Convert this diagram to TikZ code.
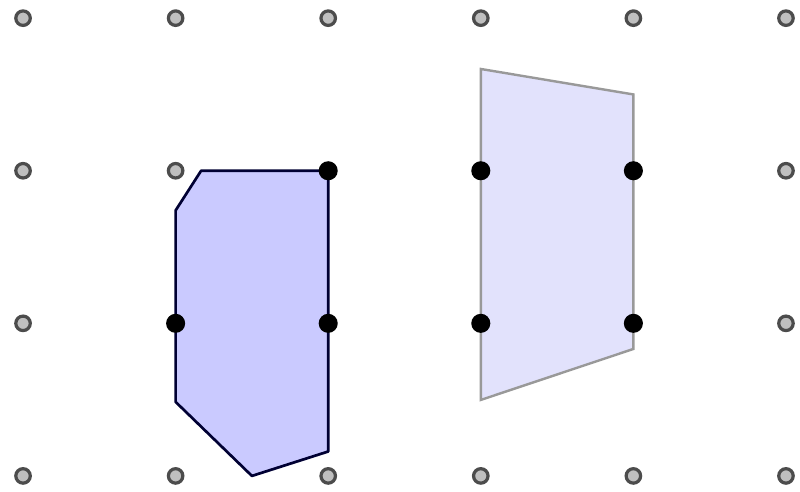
\documentclass[tikz,border=0pt]{standalone}
\begin{document}
\begin{tikzpicture}[x=1cm,y=1cm,
  gdot/.style={circle,draw=black!70,fill=black!25,line width=0.6pt,inner sep=0pt,minimum size=0.095cm},
  bdot/.style={circle,fill=black,inner sep=0pt,minimum size=0.125cm},
  polyA/.style={draw=black!80!blue,fill={rgb,255:red,202;green,202;blue,255},line width=0.5pt,line join=round},
  polyB/.style={draw=black!40,fill={rgb,255:red,226;green,226;blue,252},line width=0.45pt}]
\useasboundingbox (-0.151,-0.105) rectangle (5.092,3.119);
\draw[polyA] (1.167,2) -- (1,1.74) -- (1,0.485) -- (1.5,0) -- (2,0.16) -- (2,2) -- cycle;
\draw[polyB] (3,2.667) -- (4,2.5) -- (4,0.832) -- (3,0.498) -- cycle;
\foreach \i in {0,...,5}{
  \foreach \j in {0,...,3}{
    \node[gdot] (g\i\j) at (\i,\j) {};
  }
}
\foreach \p in {22,11,21,32,42,31,41}{
  \node[bdot] (b\p) at (g\p) {};
}
\end{tikzpicture}
\end{document}
